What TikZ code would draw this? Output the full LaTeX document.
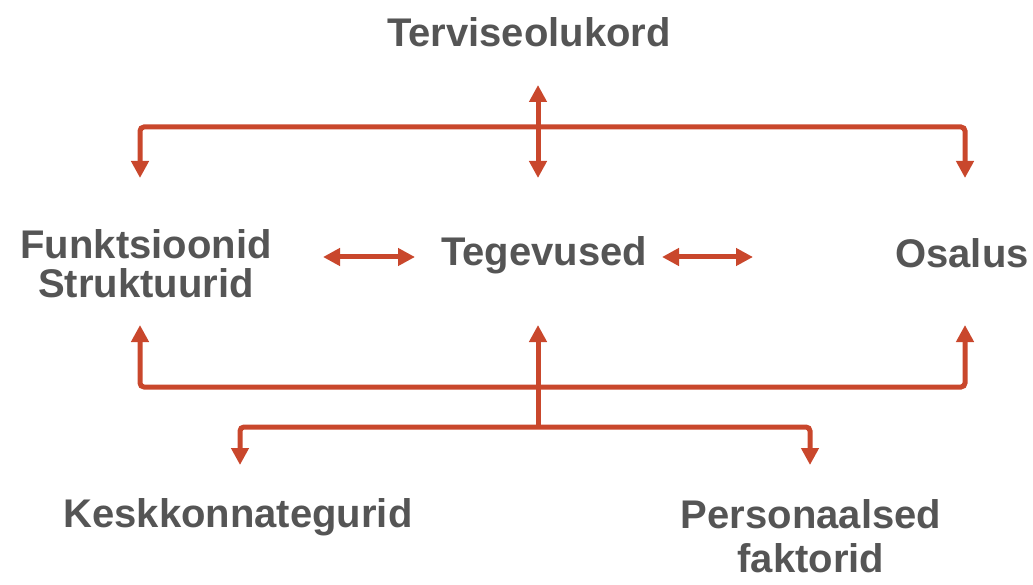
\documentclass[tikz,border=0pt]{standalone}
\usepackage{fontspec}
\setmainfont{Liberation Sans}
\usetikzlibrary{arrows.meta}
\definecolor{linecol}{HTML}{C9472C}
\definecolor{textcol}{HTML}{555555}
\begin{document}
\begin{tikzpicture}[x=1pt,y=-1pt,
  lbl/.style={inner sep=0pt, text=textcol, font=\fontsize{40}{39}\selectfont\bfseries, align=center},
  conn/.style={draw=linecol, line width=5pt, rounded corners=4pt, {Triangle[width=17pt,length=17pt]}-{Triangle[width=17pt,length=17pt]}},
  conn1/.style={draw=linecol, line width=5pt, -{Triangle[width=17pt,length=17pt]}}]
\useasboundingbox (0,0) rectangle (1033,585);
% labels
\node[lbl, anchor=base] (ter) at (529,47) {Terviseolukord};
\node[lbl, anchor=base] (teg) at (544,266) {Tegevused};
\node[lbl, anchor=base] (osa) at (962,268) {Osalus};
\node[lbl, anchor=base] (fun) at (146,298) {Funktsioonid\\Struktuurid};
\node[lbl, anchor=base] (kes) at (238,527) {Keskkonnategurid};
\node[lbl, anchor=base, font=\fontsize{40}{44}\selectfont\bfseries] (per) at (811,572) {Personaalsed\\faktorid};
% coordinates
\coordinate (tTop) at (538,85);
\coordinate (tBot) at (538,178);
\coordinate (tL) at (140,178);
\coordinate (tC) at (538,127);
\coordinate (tR) at (965,178);
\coordinate (mL1) at (323,257);
\coordinate (mL2) at (415,257);
\coordinate (mR1) at (662,257);
\coordinate (mR2) at (753,257);
\coordinate (bL) at (140,325);
\coordinate (bC) at (538,387);
\coordinate (bR) at (965,325);
\coordinate (bTop) at (538,325);
\coordinate (lC) at (538,427);
\coordinate (lL) at (240,465);
\coordinate (lR) at (810,465);
% connectors
\draw[conn] (tL) |- (tC) -| (tR);
\draw[conn] (tTop) -- (tBot);
\draw[conn] (mL1) -- (mL2);
\draw[conn] (mR1) -- (mR2);
\draw[conn] (bL) |- (bC) -| (bR);
\draw[conn1] (lC) -- (bTop);
\draw[conn] (lL) |- (lC) -| (lR);
\end{tikzpicture}
\end{document}
